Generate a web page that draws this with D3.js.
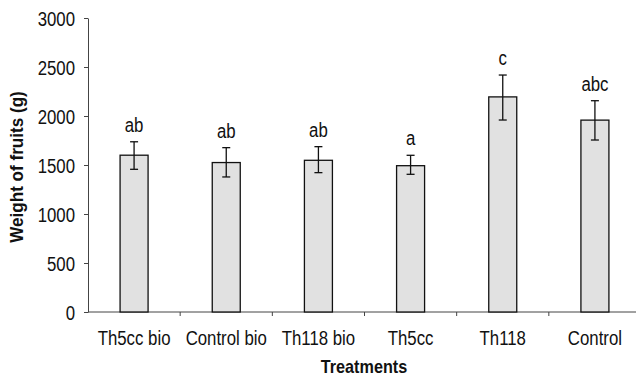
<!DOCTYPE html>
<html>
<head>
<meta charset="utf-8">
<script src="https://cdn.jsdelivr.net/npm/d3@7"></script>
<style>
  body { margin: 0; background: #fff; }
  svg { display: block; }
  text { font-family: "Liberation Sans", Arial, sans-serif; }
</style>
</head>
<body>
<svg id="canvas"></svg>
<script>
// data
let treatments = ['Th5cc bio', 'Control bio', 'Th118 bio', 'Th5cc', 'Th118', 'Control']
let weights = [1600, 1525, 1548, 1493, 2195, 1958]
let errUp = [1737, 1677, 1687, 1599, 2418, 2156]
let errDown = [1456, 1378, 1422, 1405, 1959, 1755]
let letters = ['ab', 'ab', 'ab', 'a', 'c', 'abc']
let yTicks = [0, 500, 1000, 1500, 2000, 2500, 3000]

let width = 636
let height = 379
let narrow = 0.8   // squeeze Liberation Sans into a condensed look
let fontSize = 21

let svg = d3.select('#canvas')
  .attr('width', width)
  .attr('height', height)

let xScale = d3.scaleBand()
  .domain(treatments)
  .range([88, 641])

let yScale = d3.scaleLinear()
  .domain([0, 3000])
  .range([312, 18])

// text placed at (x, y) but squeezed horizontally
let squeeze = (sel, x, y, k) => {
  sel.attr('transform', (d, i) => {
    let xx = typeof x === 'function' ? x(d, i) : x
    let yy = typeof y === 'function' ? y(d, i) : y
    return 'translate(' + xx + ',' + yy + ') scale(' + k + ',1)'
  })
}

// y axis
let yAxis = d3.axisLeft(yScale)
  .tickValues(yTicks)
  .tickFormat(d3.format('d'))
  .tickSize(4)
  .tickSizeOuter(0)

let yG = svg.append('g')
  .attr('transform', 'translate(88, 0)')
  .call(yAxis)
yG.select('.domain').attr('stroke', '#444')
yG.selectAll('.tick line').attr('stroke', '#444')
yG.selectAll('.tick text')
  .attr('x', null)
  .attr('dy', '0.36em')
  .attr('font-size', fontSize)
  .attr('fill', '#111')
  .attr('font-family', '"Liberation Sans", Arial, sans-serif')
  .attr('transform', 'translate(-13,0) scale(' + narrow + ',1)')

// x axis: ticks sit between the categories
let xG = svg.append('g')
  .attr('transform', 'translate(0, 312)')
xG.append('line')
  .attr('x1', 88)
  .attr('x2', 641)
  .attr('stroke', '#444')
xG.selectAll('.sep')
  .data(treatments.slice(1))
  .enter()
  .append('line')
  .attr('class', 'sep')
  .attr('x1', (d) => xScale(d))
  .attr('x2', (d) => xScale(d))
  .attr('y1', 0)
  .attr('y2', 4)
  .attr('stroke', '#444')
xG.selectAll('.lab')
  .data(treatments)
  .enter()
  .append('text')
  .attr('class', 'lab')
  .attr('text-anchor', 'middle')
  .attr('font-size', fontSize)
  .attr('fill', '#111')
  .text((d) => d)
  .call(squeeze, (d) => xScale(d) + xScale.bandwidth() / 2, 33, narrow)

let barW = 28

let block = svg.selectAll('.bar')
  .data(treatments)
  .enter()
  .append('g')
  .attr('class', 'bar')
  .attr('transform', (d) => 'translate(' + (xScale(d) + xScale.bandwidth() / 2) + ', 0)')

block.append('rect')
  .attr('x', -barW / 2)
  .attr('y', (d, i) => yScale(weights[i]))
  .attr('width', barW)
  .attr('height', (d, i) => yScale(0) - yScale(weights[i]))
  .attr('fill', '#e1e1e1')
  .attr('stroke', '#111')
  .attr('stroke-width', 1.3)

block.append('line')
  .attr('x1', 0).attr('x2', 0)
  .attr('y1', (d, i) => yScale(errUp[i]))
  .attr('y2', (d, i) => yScale(errDown[i]))
  .attr('stroke', '#111')
  .attr('stroke-width', 1.3)

block.append('line')
  .attr('x1', -4).attr('x2', 4)
  .attr('y1', (d, i) => yScale(errUp[i]))
  .attr('y2', (d, i) => yScale(errUp[i]))
  .attr('stroke', '#111')
  .attr('stroke-width', 1.3)

block.append('line')
  .attr('x1', -4).attr('x2', 4)
  .attr('y1', (d, i) => yScale(errDown[i]))
  .attr('y2', (d, i) => yScale(errDown[i]))
  .attr('stroke', '#111')
  .attr('stroke-width', 1.3)

block.append('text')
  .attr('text-anchor', 'middle')
  .attr('font-size', fontSize)
  .attr('fill', '#111')
  .text((d, i) => letters[i])
  .call(squeeze, 0, (d, i) => yScale(errUp[i]) - 10, narrow)

// axis titles
svg.append('text')
  .attr('text-anchor', 'middle')
  .attr('font-size', 18)
  .attr('font-weight', 'bold')
  .attr('fill', '#111')
  .text('Treatments')
  .call(squeeze, 364, 373, 0.9)

svg.append('text')
  .attr('transform', 'translate(23, 167) rotate(-90) scale(0.95,1)')
  .attr('text-anchor', 'middle')
  .attr('font-size', 18)
  .attr('font-weight', 'bold')
  .attr('fill', '#111')
  .text('Weight of fruits (g)')
</script>
</body>
</html>
